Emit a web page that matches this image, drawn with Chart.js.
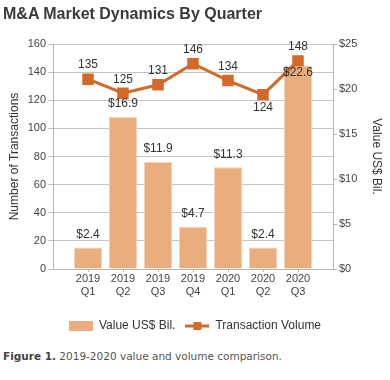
<!DOCTYPE html>
<html>
<head>
<meta charset="utf-8">
<script src="https://cdn.jsdelivr.net/npm/chart.js@4.4.1/dist/chart.umd.min.js"></script>
<style>
    body { margin: 0; background: #fff; width: 390px; height: 380px; overflow: hidden; position: relative; }
    #title { position: absolute; left: 3px; top: 6px; font: bold 16px/16px "Liberation Sans", Arial, sans-serif; color: #3a3a3a; white-space: nowrap; }
    #wrap { position: absolute; left: 0; top: 0; width: 390px; height: 345px; }
    #caption { position: absolute; left: 3px; top: 350px; font: 10.5px/12px "DejaVu Sans", Verdana, sans-serif; color: #555; white-space: nowrap; }
    #caption b { color: #444; }
</style>
</head>
<body>
<div id="wrap"><canvas id="maChart"></canvas></div>
<div id="title">M&amp;A Market Dynamics By Quarter</div>
<div id="caption"><b>Figure 1.</b> 2019-2020 value and volume comparison.</div>
<script>
const quarters = ['2019 Q1', '2019 Q2', '2019 Q3', '2019 Q4', '2020 Q1', '2020 Q2', '2020 Q3'];
const dealValue = [2.4, 16.9, 11.9, 4.7, 11.3, 2.4, 22.6];      // US$ bil.
const dealCount = [135, 125, 131, 146, 134, 124, 148];          // transactions
const countTicks = [0, 160, 20];   // min, max, step
const valueTicks = [0, 25, 5];

// label placement tweaks (style only)
const barLabelInside = [6];
const lineLabelBelow = [5];

const colors = {
    bar: '#E9AD7E',
    barEdge: '#F4D2B4',
    line: '#D3692A',
    grid: '#C4C4C4',
    axis: '#B5B5B5',
    text: '#333333'
};
const FONT = "'Liberation Sans', Arial, sans-serif";

Chart.defaults.font.family = FONT;
Chart.defaults.color = colors.text;

// little line + square swatch for the legend
function lineSwatch() {
    const c = document.createElement('canvas');
    c.width = 24; c.height = 10;
    const g = c.getContext('2d');
    g.strokeStyle = colors.line;
    g.lineWidth = 3;
    g.beginPath(); g.moveTo(0, 5); g.lineTo(24, 5); g.stroke();
    g.fillStyle = colors.line;
    g.fillRect(8, 1, 8, 8);
    return c;
}

const dataLabels = {
    id: 'dataLabels',
    afterDatasetsDraw(chart) {
        const ctx = chart.ctx;
        ctx.save();
        ctx.font = '12px ' + FONT;
        ctx.fillStyle = colors.text;
        ctx.textAlign = 'center';
        ctx.textBaseline = 'middle';
        chart.getDatasetMeta(0).data.forEach((bar, i) => {
            const y = barLabelInside.includes(i) ? bar.y + 7 : bar.y - 13;
            ctx.fillText('$' + dealValue[i].toFixed(1), bar.x, y);
        });
        chart.getDatasetMeta(1).data.forEach((pt, i) => {
            const y = lineLabelBelow.includes(i) ? pt.y + 13 : pt.y - 14;
            ctx.fillText(String(dealCount[i]), pt.x, y);
        });
        ctx.restore();
    }
};

new Chart(document.getElementById('maChart'), {
    type: 'bar',
    data: {
        datasets: [{
            type: 'bar',
            label: 'Value US$ Bil.',
            data: dealValue.map((v, i) => ({ x: i, y: v })),
            yAxisID: 'y1',
            backgroundColor: colors.bar,
            borderColor: colors.barEdge,
            borderWidth: 1,
            categoryPercentage: 1,
            barPercentage: 0.8,
            order: 2
        }, {
            type: 'line',
            label: 'Transaction Volume',
            data: dealCount.map((v, i) => ({ x: i, y: v })),
            yAxisID: 'y',
            borderColor: colors.line,
            backgroundColor: colors.line,
            borderWidth: 3,
            pointStyle: 'rect',
            pointRadius: 6,
            pointHoverRadius: 6,
            tension: 0,
            order: 1
        }]
    },
    options: {
        responsive: true,
        maintainAspectRatio: false,
        animation: false,
        layout: { padding: { top: 44, left: 0, right: 0, bottom: 3 } },
        plugins: {
            tooltip: { enabled: false },
            legend: {
                position: 'bottom',
                labels: {
                    usePointStyle: true,
                    pointStyleWidth: 24,
                    boxHeight: 10,
                    padding: 10,
                    font: { size: 12 },
                    color: colors.text,
                    sort: (a, b) => a.datasetIndex - b.datasetIndex,
                    generateLabels(chart) {
                        const items = Chart.defaults.plugins.legend.labels.generateLabels(chart);
                        items.forEach(it => {
                            if (it.datasetIndex === 0) {
                                it.pointStyle = 'rect';
                                it.fillStyle = colors.bar;
                                it.strokeStyle = colors.bar;
                                it.lineWidth = 0;
                            } else {
                                it.pointStyle = lineSwatch();
                            }
                        });
                        return items;
                    }
                }
            }
        },
        scales: {
            x: {
                type: 'linear',
                offset: false,
                min: -1,
                max: quarters.length,
                afterBuildTicks: s => { s.ticks = quarters.map((q, i) => ({ value: i })); },
                afterFit: s => { s.height = 41; },
                grid: { drawOnChartArea: false, drawTicks: true, tickLength: 3, color: colors.axis, offset: false },
                border: { color: colors.axis },
                ticks: {
                    padding: 0,
                    maxRotation: 0,
                    autoSkip: false,
                    font: { size: 11 },
                    color: '#444',
                    callback: v => quarters[v] ? quarters[v].split(' ') : ''
                }
            },
            y: {
                position: 'left',
                min: countTicks[0],
                max: countTicks[1],
                afterFit: s => { s.width = 53; },
                grid: { color: colors.grid, tickLength: 5 },
                border: { color: colors.axis },
                ticks: { stepSize: countTicks[2], padding: 2, font: { size: 11 }, color: '#444' },
                title: { display: true, text: 'Number of Transactions', font: { size: 12 }, color: colors.text, padding: { top: 7, bottom: 2 } }
            },
            y1: {
                position: 'right',
                min: valueTicks[0],
                max: valueTicks[1],
                afterFit: s => { s.width = 57; },
                grid: { drawOnChartArea: false, color: colors.axis, tickLength: 4 },
                border: { color: colors.axis },
                ticks: { stepSize: valueTicks[2], padding: 2, font: { size: 11 }, color: '#444', callback: v => '$' + v },
                title: { display: true, text: 'Value US$ Bil.', font: { size: 12 }, color: colors.text, padding: { top: 6, bottom: 2 } }
            }
        }
    },
    plugins: [dataLabels]
});
</script>
</body>
</html>
